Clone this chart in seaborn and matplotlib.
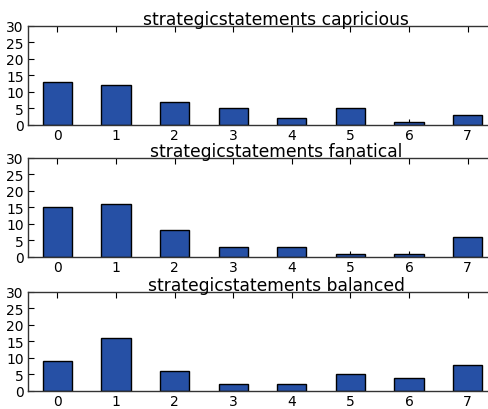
import matplotlib
matplotlib.use("Agg")
import matplotlib.pyplot as plt
import seaborn as sns
import pandas as pd

categories = [0, 1, 2, 3, 4, 5, 6, 7]
capricious = [13, 12, 7, 5, 2, 5, 1, 3]
fanatical = [15, 16, 8, 3, 3, 1, 1, 6]
balanced = [9, 16, 6, 2, 2, 5, 4, 8]

panels = [
    ("strategicstatements capricious", capricious),
    ("strategicstatements fanatical", fanatical),
    ("strategicstatements balanced", balanced),
]

sns.set_style("white")
plt.rcParams["font.family"] = ["DejaVu Sans"]
plt.rcParams["text.color"] = "black"

fig = plt.figure(figsize=(4.88, 4.10), dpi=100)
bottoms = [0.693, 0.371, 0.044]
height = 0.2415
left = 28 / 488
width = 469 / 488

for (title, values), b in zip(panels, bottoms):
    ax = fig.add_axes([left, b, width, height])
    df = pd.DataFrame({"cat": categories, "n": values})
    sns.barplot(data=df, x="cat", y="n", ax=ax, color="#2650a5",
                saturation=1, width=0.5, edgecolor="black", linewidth=1)
    ax.set_xlim(-0.5, 7.5)
    ax.set_ylim(0, 30)
    ax.set_yticks([0, 5, 10, 15, 20, 25, 30])
    ax.set_xlabel("")
    ax.set_ylabel("")
    ax.set_title(title, fontsize=12.3, pad=1.5, color="black", x=0.529)
    ax.tick_params(direction="in", top=True, right=True, bottom=True, left=True,
                   length=4, width=0.8, labelsize=10, colors="black", pad=3)
    ax.tick_params(axis="x", pad=2)
    for s in ax.spines.values():
        s.set_color("#333333")
        s.set_linewidth(1)

fig.savefig("out.png", dpi=100)
